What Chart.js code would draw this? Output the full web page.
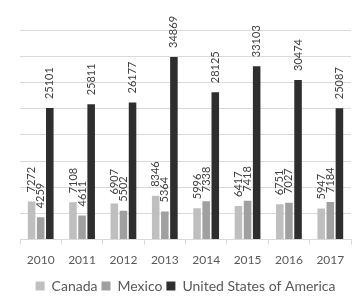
<!DOCTYPE html>
<html>
<head>
<meta charset="utf-8">
<script src="https://cdn.jsdelivr.net/npm/chart.js@4/dist/chart.umd.min.js"></script>
<style>
  html, body { margin: 0; padding: 0; background: #ffffff; }
  #wrap { width: 359px; height: 304px; position: relative; }
</style>
</head>
<body>
<div id="wrap"><canvas id="tradeChart"></canvas></div>
<script>
const years = ["2010", "2011", "2012", "2013", "2014", "2015", "2016", "2017"];
const canadaValues = [7272, 7108, 6907, 8346, 5996, 6417, 6751, 5947];
const mexicoValues = [4259, 4611, 5502, 5364, 7338, 7418, 7027, 7184];
const usaValues = [25101, 25811, 26177, 34869, 28125, 33103, 30474, 25087];

// Rotated value labels above each bar (Excel "outside end" style)
const barValueLabels = {
    id: 'barValueLabels',
    afterDatasetsDraw(chart) {
        const ctx = chart.ctx;
        ctx.save();
        ctx.font = '11px Lato';
        ctx.fillStyle = '#404040';
        ctx.textAlign = 'left';
        ctx.textBaseline = 'middle';
        chart.data.datasets.forEach((ds, i) => {
            chart.getDatasetMeta(i).data.forEach((bar, j) => {
                ctx.save();
                ctx.translate(bar.x, bar.y - 9);
                ctx.rotate(-Math.PI / 2);
                ctx.fillText(String(ds.data[j]), 0, 0);
                ctx.restore();
            });
        });
        ctx.restore();
    }
};

let tradeChart;

const initTradeChart = () => {
    const ctx = document.getElementById('tradeChart').getContext('2d');
    tradeChart = new Chart(ctx, {
        type: 'bar',
        data: {
            labels: years,
            datasets: [
                { label: 'Canada', data: canadaValues, backgroundColor: '#bfbfbf' },
                { label: 'Mexico', data: mexicoValues, backgroundColor: '#a0a0a0' },
                { label: 'United States of America', data: usaValues, backgroundColor: '#2e2e2e' }
            ]
        },
        options: {
            responsive: true,
            maintainAspectRatio: false,
            animation: false,
            categoryPercentage: 0.66,
            barPercentage: 0.83,
            layout: { padding: { left: 20, right: 8, top: 30, bottom: 1 } },
            plugins: {
                tooltip: { enabled: false },
                legend: {
                    position: 'bottom',
                    labels: {
                        boxWidth: 9,
                        boxHeight: 9,
                        padding: 4,
                        color: '#595959',
                        font: { family: 'Lato', size: 14 }
                    }
                }
            },
            scales: {
                x: {
                    grid: {
                        drawOnChartArea: false,
                        tickLength: 5,
                        color: '#d9d9d9'
                    },
                    border: { color: '#d9d9d9' },
                    ticks: {
                        color: '#595959',
                        padding: 8,
                        font: { family: 'Lato', size: 12 }
                    }
                },
                y: {
                    min: 0,
                    max: 40000,
                    ticks: { display: false, stepSize: 5000 },
                    grid: { color: '#d9d9d9', drawTicks: false },
                    border: { display: false }
                }
            }
        },
        plugins: [barValueLabels]
    });
};

document.addEventListener('DOMContentLoaded', initTradeChart);
</script>
</body>
</html>
